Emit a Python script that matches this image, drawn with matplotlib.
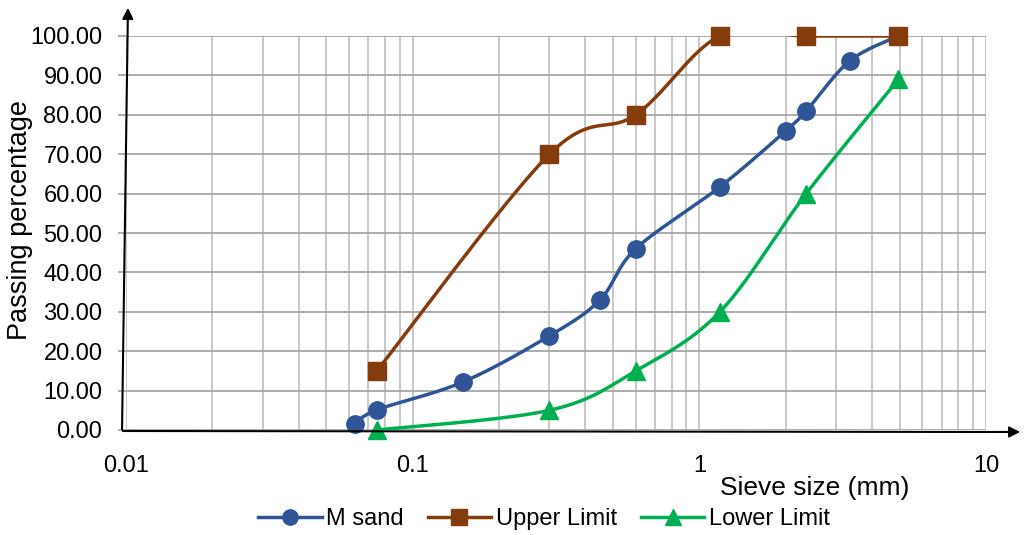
import numpy as np
import matplotlib
matplotlib.use("Agg")
import matplotlib.pyplot as plt

plt.rcParams['font.family'] = ['Liberation Sans', 'DejaVu Sans']

# ---- data ----
msand_x = [0.063, 0.075, 0.15, 0.3, 0.45, 0.6, 1.18, 2.0, 2.36, 3.35, 4.95]
msand_y = [1.5, 5.1, 12.2, 23.9, 33.0, 46.0, 61.7, 75.9, 81.0, 93.7, 100.0]
upper_x = [0.075, 0.3, 0.6, 1.18, 2.36, 4.95]
upper_y = [15.0, 70.0, 80.0, 100.0, 100.0, 100.0]
lower_x = [0.075, 0.3, 0.6, 1.18, 2.36, 4.95]
lower_y = [0.0, 5.0, 15.0, 30.0, 60.0, 89.0]
series_names = ["M sand", "Upper Limit", "Lower Limit"]
y_ticks = [0, 10, 20, 30, 40, 50, 60, 70, 80, 90, 100]
x_ticks = [0.01, 0.1, 1, 10]
x_tick_labels = ["0.01", "0.1", "1", "10"]

W, H = 1025, 535
fig = plt.figure(figsize=(W / 100, H / 100), dpi=100)
ax = fig.add_axes([126 / W, 1 - 430 / H, 860 / W, 394 / H])
ax.set_xscale('log')
ax.set_xlim(0.01, 10)
ax.set_ylim(0, 100)


def smooth(xs, ys, n=40):
    # Bezier (Catmull-Rom style) smoothing in axes-normalised space
    u = (np.log10(xs) + 2) / 3 * 860
    v = np.array(ys) / 100 * 394
    P = np.column_stack([u, v])
    out = []
    for i in range(len(P) - 1):
        p0 = P[i - 1] if i > 0 else P[i]
        p1 = P[i]
        p2 = P[i + 1]
        p3 = P[i + 2] if i + 2 < len(P) else P[i + 1]
        c1 = p1 + (p2 - p0) / 6
        c2 = p2 - (p3 - p1) / 6
        t = np.linspace(0, 1, n)[:, None]
        seg = (1 - t) ** 3 * p1 + 3 * (1 - t) ** 2 * t * c1 + 3 * (1 - t) * t ** 2 * c2 + t ** 3 * p2
        out.append(seg if i == 0 else seg[1:])
    S = np.vstack(out)
    sx = 10 ** (S[:, 0] / 860 * 3 - 2)
    sy = S[:, 1] / 394 * 100
    return sx, sy


styles = [
    (msand_x, msand_y, '#2F5597', 'o', 12.5),
    (upper_x, upper_y, '#843C0C', 's', 12.8),
    (lower_x, lower_y, '#00B050', '^', 12.5),
]
handles = []
for k, ((xs, ys, c, m, ms), name) in enumerate(zip(styles, series_names)):
    sx, sy = smooth(xs, ys)
    ax.plot(sx, sy, color=c, lw=2.5, clip_on=True, zorder=3 + 2 * k)
    ax.plot(xs, ys, linestyle='none', marker=m, color=c, ms=ms, clip_on=False, zorder=4 + 2 * k)
    h, = ax.plot([], [], color=c, lw=2.5, marker=m, ms=11, label=name)
    handles.append(h)

ax.set_yticks(y_ticks)
ax.set_yticklabels([f"{v:.2f}" for v in y_ticks])
ax.set_xticks(x_ticks)
ax.set_xticklabels(x_tick_labels)
ax.xaxis.set_minor_locator(matplotlib.ticker.LogLocator(base=10, subs=np.arange(2, 10)))
ax.xaxis.set_minor_formatter(matplotlib.ticker.NullFormatter())
ax.grid(True, which='major', axis='y', color='#a6a6a6', lw=1.3)
ax.grid(True, which='both', axis='x', color='#c4c4c4', lw=1.3)
ax.set_axisbelow(True)
for s in ax.spines.values():
    s.set_visible(False)
ax.tick_params(axis='both', which='both', length=0, labelsize=17, colors='#000000')
ax.tick_params(axis='x', pad=18)
ax.tick_params(axis='y', pad=11)
ax.tick_params(axis='y', which='major', length=6, color='#a6a6a6', width=1.3)

fig.text(20 / W, 1 - 220 / H, "Passing percentage", fontsize=19.5, rotation=90,
         ha='center', va='center')
fig.text(815 / W, 1 - 488 / H, "Sieve size (mm)", fontsize=19, ha='center', va='center')

# axis arrows
fig.add_artist(matplotlib.patches.FancyArrowPatch(
    (122 / W, 1 - 432 / H), (128 / W, 1 - 5 / H), transform=fig.transFigure,
    arrowstyle='-|>', mutation_scale=16, color='black', lw=1.5))
fig.add_artist(matplotlib.patches.FancyArrowPatch(
    (120 / W, 1 - 431 / H), (1023 / W, 1 - 432 / H), transform=fig.transFigure,
    arrowstyle='-|>', mutation_scale=16, color='black', lw=1.5))

fig.legend(handles=handles, loc='center', bbox_to_anchor=(544 / W, 1 - 519 / H), ncol=3,
           frameon=False, fontsize=17, handlelength=2.7, columnspacing=1.0, handletextpad=0.2,
           borderpad=0.1)

fig.savefig("out.png", dpi=100)
